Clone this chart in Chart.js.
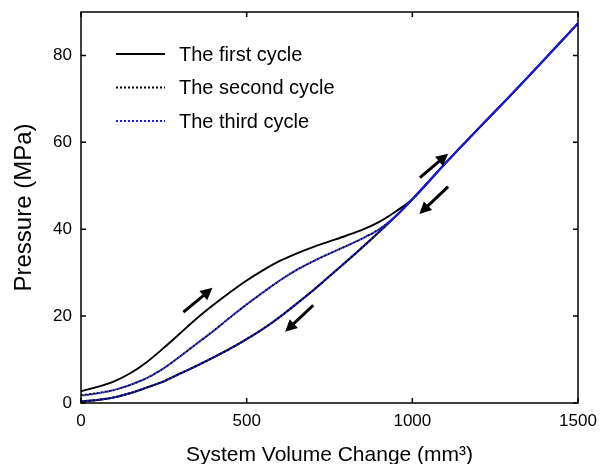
<!DOCTYPE html>
<html>
<head>
<meta charset="utf-8">
<script src="https://cdn.jsdelivr.net/npm/chart.js@4/dist/chart.umd.min.js"></script>
<style>
html,body{margin:0;padding:0;background:#fff;}
canvas{display:block;}
</style>
</head>
<body>
<canvas id="c" width="600" height="464"></canvas>
<script>
// ---- data ----
const xLow = [0,50,100,150,200,250,300,350,400,450,500,550,600,650,700,750,800,850,900,950,1000];
const xHigh = [1100,1200,1300,1400,1500];
const highP = [55.2,63.2,71.1,79.2,87.4];

const cycle1Load   = [2.7,3.7,5.0,6.9,9.5,12.7,16.1,19.5,22.6,25.5,28.2,30.6,32.7,34.4,35.9,37.2,38.5,39.9,41.7,44.1,46.9];
const cycle1Unload = [0.4,0.7,1.3,2.3,3.6,5.0,6.8,8.6,10.5,12.5,14.7,17.1,19.8,22.8,25.9,29.2,32.5,35.9,39.4,43.0,46.9];
const cycle2Load   = [1.8,2.3,3.0,4.2,5.8,8.0,10.8,13.7,16.6,19.7,22.7,25.5,28.2,30.6,32.6,34.4,36.1,37.9,40.0,43.0,46.9];
const cycle2Unload = [0.4,0.7,1.3,2.3,3.6,5.0,6.8,8.6,10.5,12.5,14.7,17.1,19.8,22.8,25.9,29.2,32.5,35.9,39.4,43.0,46.9];
const cycle3Load   = [1.7,2.2,3.0,4.2,5.8,8.0,10.8,13.7,16.6,19.7,22.7,25.5,28.2,30.6,32.6,34.4,36.1,37.9,40.0,43.0,46.9];
const cycle3Unload = [0.4,0.7,1.3,2.3,3.6,5.0,6.8,8.6,10.5,12.5,14.7,17.1,19.8,22.8,25.9,29.2,32.5,35.9,39.4,43.0,46.9];

const seriesLabels = ['The first cycle','The second cycle','The third cycle'];
const xTicks = [0,500,1000,1500];
const yTicks = [0,20,40,60,80];

// arrows in data coordinates: tail x, tail y, tip x, tip y
const arrowTailX = [309, 701, 1023, 1108];
const arrowTailY = [20.9, 22.5, 51.9, 49.8];
const arrowTipX  = [397, 616, 1108, 1021];
const arrowTipY  = [26.5, 16.4, 57.4, 43.5];

function buildLoop(load, unload){
  const pts = [];
  xLow.forEach((x,i)=>pts.push({x:x,y:load[i]}));
  xHigh.forEach((x,i)=>pts.push({x:x,y:highP[i]}));
  for(let i=xHigh.length-2;i>=0;i--) pts.push({x:xHigh[i],y:highP[i]});
  for(let i=xLow.length-1;i>=0;i--) pts.push({x:xLow[i],y:unload[i]});
  return pts;
}

Chart.defaults.font.family = "'Liberation Sans', Arial, Helvetica, sans-serif";
Chart.defaults.color = '#000';

const framePlugin = {
  id:'frame',
  afterDatasetsDraw(chart){
    const {ctx, chartArea:a, scales:{x,y}} = chart;
    ctx.save();
    ctx.strokeStyle = '#000';
    ctx.lineWidth = 1.5;
    ctx.strokeRect(a.left, a.top, a.right-a.left, a.bottom-a.top);
    const tl = 5;
    ctx.beginPath();
    xTicks.forEach(v=>{
      const px = x.getPixelForValue(v);
      ctx.moveTo(px, a.bottom); ctx.lineTo(px, a.bottom-tl);
      ctx.moveTo(px, a.top); ctx.lineTo(px, a.top+tl);
    });
    yTicks.forEach(v=>{
      const py = y.getPixelForValue(v);
      ctx.moveTo(a.left, py); ctx.lineTo(a.left+tl, py);
      ctx.moveTo(a.right, py); ctx.lineTo(a.right-tl, py);
    });
    ctx.stroke();

    // arrows
    ctx.fillStyle = '#000';
    for(let i=0;i<arrowTailX.length;i++){
      const x1 = x.getPixelForValue(arrowTailX[i]), y1 = y.getPixelForValue(arrowTailY[i]);
      const x2 = x.getPixelForValue(arrowTipX[i]),  y2 = y.getPixelForValue(arrowTipY[i]);
      const ang = Math.atan2(y2-y1, x2-x1);
      const hl = 12, hw = 6;
      const bx = x2 - hl*Math.cos(ang), by = y2 - hl*Math.sin(ang);
      ctx.lineWidth = 3;
      ctx.lineCap = 'butt';
      ctx.beginPath(); ctx.moveTo(x1,y1); ctx.lineTo(bx+2*Math.cos(ang),by+2*Math.sin(ang)); ctx.stroke();
      ctx.beginPath();
      ctx.moveTo(x2,y2);
      ctx.lineTo(bx + hw*Math.sin(ang), by - hw*Math.cos(ang));
      ctx.lineTo(bx - hw*Math.sin(ang), by + hw*Math.cos(ang));
      ctx.closePath(); ctx.fill();
    }

    // legend
    const ds = chart.data.datasets;
    const lx1 = a.left + 35, lx2 = a.left + 84, tx = a.left + 98;
    const ly0 = a.top + 42, dy = 33.5;
    ctx.font = "20px 'Liberation Sans', Arial, sans-serif";
    ctx.textBaseline = 'middle';
    ctx.textAlign = 'left';
    ds.forEach((d,i)=>{
      const ly = ly0 + i*dy;
      ctx.save();
      ctx.strokeStyle = d.borderColor;
      ctx.lineWidth = d.borderWidth;
      ctx.setLineDash(d.borderDash || []);
      ctx.beginPath(); ctx.moveTo(lx1, ly); ctx.lineTo(lx2, ly); ctx.stroke();
      ctx.restore();
      ctx.fillStyle = '#000';
      ctx.fillText(d.label, tx, ly+1);
    });
    ctx.restore();
  }
};

new Chart(document.getElementById('c'), {
  type:'scatter',
  data:{
    datasets:[
      {label:seriesLabels[0], data:buildLoop(cycle1Load,cycle1Unload), showLine:true, borderColor:'#000', borderWidth:1.9, tension:0.3, order:3, pointRadius:0},
      {label:seriesLabels[1], data:buildLoop(cycle2Load,cycle2Unload), showLine:true, borderColor:'#000', borderWidth:2, borderDash:[2,2], tension:0.3, order:2, pointRadius:0},
      {label:seriesLabels[2], data:buildLoop(cycle3Load,cycle3Unload), showLine:true, borderColor:'#1a1aee', borderWidth:2, borderDash:[2,2], borderDashOffset:2, tension:0.3, order:1, pointRadius:0}
    ]
  },
  options:{
    responsive:false,
    animation:false,
    layout:{padding:{top:12,right:22,left:0,bottom:0}},
    plugins:{legend:{display:false}, tooltip:{enabled:false}},
    scales:{
      x:{
        type:'linear', min:0, max:1500,
        afterBuildTicks:s=>{s.ticks = xTicks.map(v=>({value:v}));},
        afterFit:s=>{s.height = 61; s.paddingLeft = 0; s.paddingRight = 0;},
        grid:{display:false, drawTicks:false},
        border:{display:false},
        ticks:{padding:8, color:'#000', font:{size:17}, maxRotation:0, callback:v=>String(v)},
        title:{display:true, text:'System Volume Change (mm³)', color:'#000', font:{size:21}, padding:{top:0,bottom:-4}}
      },
      y:{
        type:'linear', min:0, max:90,
        afterBuildTicks:s=>{s.ticks = yTicks.map(v=>({value:v}));},
        afterFit:s=>{s.width = 81; s.paddingTop = 0; s.paddingBottom = 0;},
        grid:{display:false, drawTicks:false},
        border:{display:false},
        ticks:{padding:9, color:'#000', font:{size:17}, callback:v=>String(v)},
        title:{display:true, text:'Pressure (MPa)', color:'#000', font:{size:24}, padding:{top:10,bottom:0}}
      }
    }
  },
  plugins:[framePlugin]
});
</script>
</body>
</html>
